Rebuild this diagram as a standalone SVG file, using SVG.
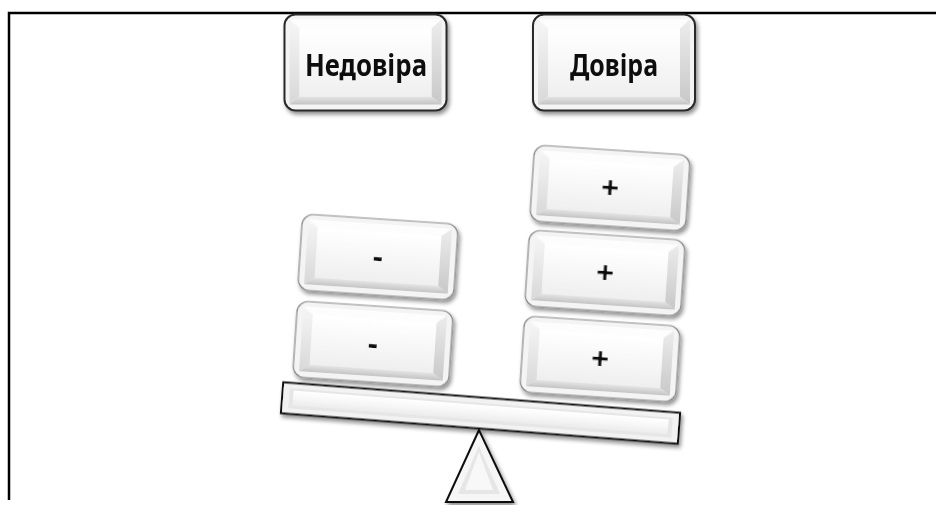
<svg xmlns="http://www.w3.org/2000/svg" xmlns:xlink="http://www.w3.org/1999/xlink" width="936" height="505" viewBox="0 0 936 505">
  <style>
    .frame { fill: none; stroke: #000; stroke-width: 2.5; }
    .head { font-family: "Noto Sans", "Open Sans", sans-serif; font-weight: bold; font-size: 30px; fill: #111; text-anchor: middle; }
    .sign { font-family: "Noto Sans", "Open Sans", sans-serif; font-weight: bold; font-size: 31px; fill: #111; text-anchor: middle; }
    .rim-dark { fill: #f4f4f4; stroke: #2a2a2a; stroke-width: 2; }
    .rim-soft { fill: #f4f4f4; stroke: #8a8a8a; stroke-width: 1.2; }
  </style>
  <defs>
    <filter id="shadow" x="-20%" y="-20%" width="140%" height="150%">
      <feGaussianBlur in="SourceAlpha" stdDeviation="2.2"/>
      <feOffset dx="2" dy="3" result="b"/>
      <feComponentTransfer><feFuncA type="linear" slope="0.45"/></feComponentTransfer>
      <feMerge><feMergeNode/><feMergeNode in="SourceGraphic"/></feMerge>
    </filter>
    <linearGradient id="face" x1="0" y1="0" x2="0" y2="1">
      <stop offset="0" stop-color="#ffffff"/>
      <stop offset="1" stop-color="#efefef"/>
    </linearGradient>
    <linearGradient id="bevelBottom" x1="0" y1="0" x2="0" y2="1">
      <stop offset="0" stop-color="#e4e4e4"/>
      <stop offset="1" stop-color="#c4c4c4"/>
    </linearGradient>
    <linearGradient id="bevelLeft" x1="0" y1="0" x2="0" y2="1">
      <stop offset="0" stop-color="#f6f6f6"/>
      <stop offset="1" stop-color="#d8d8d8"/>
    </linearGradient>
    <linearGradient id="bevelRight" x1="0" y1="0" x2="0" y2="1">
      <stop offset="0" stop-color="#ececec"/>
      <stop offset="1" stop-color="#c8c8c8"/>
    </linearGradient>
    <linearGradient id="beamFace" x1="0" y1="0" x2="0" y2="1">
      <stop offset="0" stop-color="#ffffff"/>
      <stop offset="0.5" stop-color="#f7f7f7"/>
      <stop offset="1" stop-color="#ececec"/>
    </linearGradient>

    <!-- bevelled key, 156 x 76, centred on origin -->
    <g id="key">
      <rect class="rim-soft" x="-78" y="-38" width="156" height="76" rx="11"/>
      <polygon points="-72,-33 72,-33 62,-25 -62,-25" fill="#fdfdfd"/>
      <polygon points="-72,-33 -62,-25 -62,25 -72,32" fill="url(#bevelLeft)"/>
      <polygon points="72,-33 62,-25 62,25 72,32" fill="url(#bevelRight)"/>
      <polygon points="-72,32 -62,25 62,25 72,32" fill="url(#bevelBottom)"/>
      <rect x="-62" y="-25" width="124" height="50" fill="url(#face)"/>
    </g>

    <!-- bevelled heading key, 162 x 96 -->
    <g id="headKey">
      <rect class="rim-dark" x="-81" y="-48" width="162" height="96" rx="11"/>
      <polygon points="-76,-43 76,-43 66,-34 -66,-34" fill="#fdfdfd"/>
      <polygon points="-76,-43 -66,-34 -66,34 -76,42" fill="url(#bevelLeft)"/>
      <polygon points="76,-43 66,-34 66,34 76,42" fill="url(#bevelRight)"/>
      <polygon points="-76,42 -66,34 66,34 76,42" fill="url(#bevelBottom)"/>
      <rect x="-66" y="-34" width="132" height="68" fill="url(#face)"/>
    </g>
  </defs>

  <rect width="936" height="505" fill="#ffffff"/>

  <!-- page frame -->
  <path class="frame" d="M9,500 V13 H936"/>

  <!-- headings -->
  <g id="heading-distrust" filter="url(#shadow)">
    <use xlink:href="#headKey" href="#headKey" transform="translate(365.5,62.5)"/>
    <text class="head" x="366" y="76" textLength="122" lengthAdjust="spacingAndGlyphs">Недовіра</text>
  </g>
  <g id="heading-trust" filter="url(#shadow)">
    <use xlink:href="#headKey" href="#headKey" transform="translate(614,62.5)"/>
    <text class="head" x="614" y="76" textLength="88" lengthAdjust="spacingAndGlyphs">Довіра</text>
  </g>

  <!-- balance: fulcrum -->
  <g id="fulcrum" filter="url(#shadow)">
    <polygon points="479,430 446,502 513,502" fill="#f6f6f6" stroke="#111" stroke-width="2"/>
    <polygon points="479,446 458,494 500,494" fill="#e6e6e6"/>
    <polygon points="479,452 465,490 493,490" fill="#f8f8f8"/>
  </g>

  <!-- balance: beam -->
  <g id="beam" filter="url(#shadow)" transform="translate(480.5,413) rotate(4.4)">
    <rect x="-199" y="-15.5" width="398" height="31" fill="#f2f2f2" stroke="#111" stroke-width="2"/>
    <rect x="-192" y="-10" width="384" height="20" fill="#e6e6e6"/>
    <rect x="-188" y="-8" width="376" height="15" fill="url(#beamFace)"/>
  </g>

  <!-- weights on the distrust side -->
  <g id="minus-1" filter="url(#shadow)" transform="translate(373,344) rotate(3.8)">
    <use xlink:href="#key" href="#key"/>
    <text class="sign" x="0" y="10">-</text>
  </g>
  <g id="minus-2" filter="url(#shadow)" transform="translate(378,257) rotate(3.8)">
    <use xlink:href="#key" href="#key"/>
    <text class="sign" x="0" y="10">-</text>
  </g>

  <!-- weights on the trust side -->
  <g id="plus-1" filter="url(#shadow)" transform="translate(600,359) rotate(3.8)">
    <use xlink:href="#key" href="#key"/>
    <text class="sign" x="0" y="10">+</text>
  </g>
  <g id="plus-2" filter="url(#shadow)" transform="translate(605,273) rotate(3.8)">
    <use xlink:href="#key" href="#key"/>
    <text class="sign" x="0" y="10">+</text>
  </g>
  <g id="plus-3" filter="url(#shadow)" transform="translate(610,188) rotate(3.8)">
    <use xlink:href="#key" href="#key"/>
    <text class="sign" x="0" y="10">+</text>
  </g>
</svg>
